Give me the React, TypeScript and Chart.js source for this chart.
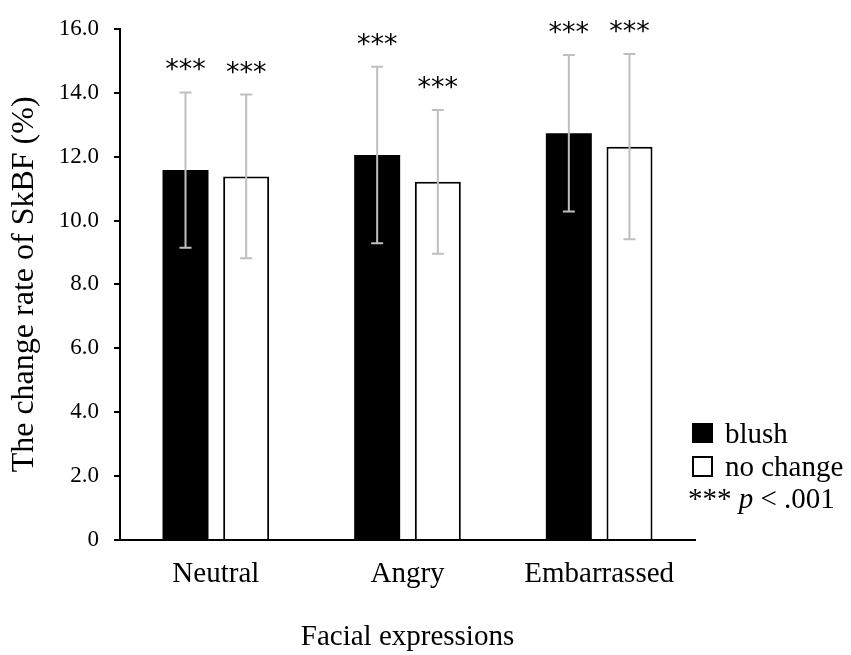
import { useEffect, useRef } from 'react';
import { Chart, registerables } from 'chart.js';

Chart.register(...registerables);

const categories = ['Neutral', 'Angry', 'Embarrassed'];
const blushMeans = [11.58, 12.05, 12.73];
const blushErrors = [2.43, 2.76, 2.45];
const noChangeMeans = [11.38, 11.21, 12.31];
const noChangeErrors = [2.56, 2.25, 2.9];
const blushStars = ['***', '***', '***'];
const noChangeStars = ['***', '***', '***'];
const seriesLabels = ['blush', 'no change'];
const yMin = 0;
const yMax = 16;
const yStep = 2;

const FONT = '"Liberation Serif", "Times New Roman", serif';

const errorSets = [blushErrors, noChangeErrors];
const starSets = [blushStars, noChangeStars];

// error bars + significance stars, positioned through the y scale
const errorBarPlugin = {
  id: 'errorBars',
  afterDatasetsDraw(chart: any) {
    const { ctx } = chart;
    const y = chart.scales.y;
    chart.data.datasets.forEach((ds: any, di: number) => {
      const meta = chart.getDatasetMeta(di);
      meta.data.forEach((bar: any, i: number) => {
        const v = ds.data[i] as number;
        const e = errorSets[di][i];
        const top = y.getPixelForValue(v + e);
        const bottom = y.getPixelForValue(v - e);
        ctx.save();
        ctx.strokeStyle = '#bfbfbf';
        ctx.lineWidth = 2;
        ctx.beginPath();
        ctx.moveTo(bar.x, top);
        ctx.lineTo(bar.x, bottom);
        ctx.moveTo(bar.x - 6, top);
        ctx.lineTo(bar.x + 6, top);
        ctx.moveTo(bar.x - 6, bottom);
        ctx.lineTo(bar.x + 6, bottom);
        ctx.stroke();

        ctx.fillStyle = '#000';
        ctx.font = '27px "DejaVu Sans", sans-serif';
        ctx.textAlign = 'center';
        ctx.textBaseline = 'alphabetic';
        ctx.fillText(starSets[di][i], bar.x, top - 14);
        ctx.restore();
      });
    });
  },
};

// legend box at the lower right, with the p-value note
const legendPlugin = {
  id: 'sideLegend',
  afterDraw(chart: any) {
    const { ctx, chartArea } = chart;
    const x0 = chartArea.right - 3;
    const base = chartArea.bottom;
    ctx.save();
    ctx.font = `29px ${FONT}`;
    ctx.fillStyle = '#000';
    ctx.textAlign = 'left';
    ctx.textBaseline = 'alphabetic';

    // blush
    ctx.fillRect(x0, base - 117, 21, 20);
    ctx.fillText(seriesLabels[0], x0 + 33, base - 97);

    // no change
    ctx.strokeStyle = '#000';
    ctx.lineWidth = 2;
    ctx.strokeRect(x0 + 1, base - 83, 19, 19);
    ctx.fillText(seriesLabels[1], x0 + 33, base - 64);

    // *** p < .001
    let x = x0 - 4;
    const y = base - 32;
    ctx.fillText('*** ', x, y);
    x += ctx.measureText('*** ').width;
    ctx.font = `italic 29px ${FONT}`;
    ctx.fillText('p', x, y);
    x += ctx.measureText('p').width;
    ctx.font = `29px ${FONT}`;
    ctx.fillText(' < .001', x, y);
    ctx.restore();
  },
};

export default function App() {
  const canvasRef = useRef<HTMLCanvasElement>(null);
  const chartRef = useRef<Chart | null>(null);

  useEffect(() => {
    if (!canvasRef.current) return;
    if (chartRef.current) chartRef.current.destroy();

    Chart.defaults.font.family = FONT;
    Chart.defaults.color = '#000';

    chartRef.current = new Chart(canvasRef.current, {
      type: 'bar',
      data: {
        labels: categories,
        datasets: [
          {
            label: seriesLabels[0],
            data: blushMeans,
            backgroundColor: '#000',
            borderColor: '#000',
            borderWidth: 0,
            categoryPercentage: 0.633,
            barPercentage: 0.758,
          },
          {
            label: seriesLabels[1],
            data: noChangeMeans,
            backgroundColor: '#fff',
            borderColor: '#000',
            borderWidth: 2,
            categoryPercentage: 0.633,
            barPercentage: 0.758,
          },
        ],
      },
      options: {
        responsive: false,
        animation: false,
        layout: { padding: { top: 17, right: 156, bottom: 0, left: 0 } },
        plugins: {
          legend: { display: false },
          tooltip: { enabled: false },
        },
        scales: {
          x: {
            grid: { display: false, drawTicks: false },
            border: { display: true, color: '#000', width: 2 },
            ticks: { font: { size: 29 }, padding: 17, color: '#000' },
            title: {
              display: true,
              text: 'Facial expressions',
              font: { size: 29 },
              color: '#000',
              padding: { top: 0, bottom: 0 },
            },
            afterFit: (s: any) => {
              s.height = 115;
            },
          },
          y: {
            min: yMin,
            max: yMax,
            grid: {
              drawOnChartArea: false,
              drawTicks: true,
              tickLength: 6,
              color: '#000',
              lineWidth: 2,
            },
            border: { display: true, color: '#000', width: 2 },
            ticks: {
              stepSize: yStep,
              font: { size: 23 },
              padding: 15,
              color: '#000',
              callback: (v: any) => (Number(v) === 0 ? '0' : Number(v).toFixed(1)),
            },
            title: {
              display: true,
              text: 'The change rate of SkBF (%)',
              font: { size: 32 },
              color: '#000',
              padding: { top: 5, bottom: 0 },
            },
            afterFit: (s: any) => {
              s.width = 120;
            },
          },
        },
      },
      plugins: [errorBarPlugin, legendPlugin],
    });

    return () => {
      if (chartRef.current) {
        chartRef.current.destroy();
        chartRef.current = null;
      }
    };
  }, []);

  return (
    <div style={{ position: 'fixed', left: 0, top: 0, width: 851, height: 655, background: '#fff' }}>
      <canvas ref={canvasRef} width={851} height={655} />
    </div>
  );
}
